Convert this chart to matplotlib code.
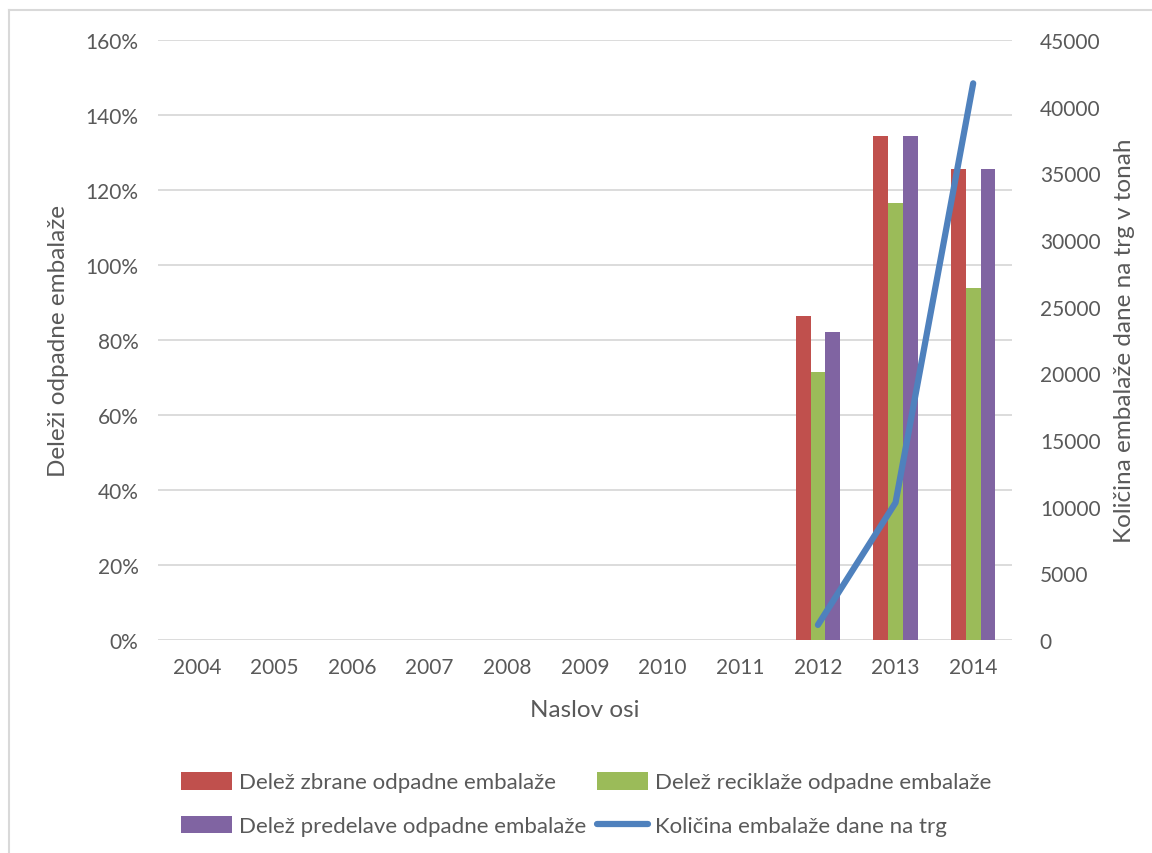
import matplotlib
matplotlib.use("Agg")
import matplotlib.pyplot as plt
from matplotlib.lines import Line2D
import numpy as np

years = ["2004", "2005", "2006", "2007", "2008", "2009", "2010", "2011", "2012", "2013", "2014"]
zbrane = [0, 0, 0, 0, 0, 0, 0, 0, 86.5, 134.5, 125.7]
reciklaze = [0, 0, 0, 0, 0, 0, 0, 0, 71.5, 116.6, 94.0]
predelave = [0, 0, 0, 0, 0, 0, 0, 0, 82.1, 134.5, 125.7]
line_years_idx = [8, 9, 10]
kolicina = [1130, 10300, 41750]

left_ticks = [0, 20, 40, 60, 80, 100, 120, 140, 160]
right_ticks = [0, 5000, 10000, 15000, 20000, 25000, 30000, 35000, 40000, 45000]

plt.rcParams['font.family'] = ['Lato', 'DejaVu Sans']
TXT = '#595959'
GRID = '#d9d9d9'

W, H = 1152, 854
fig = plt.figure(figsize=(W / 100, H / 100), dpi=100)

x0, x1, y0, y1 = 158, 1012, 41, 641
ax = fig.add_axes([x0 / W, 1 - y1 / H, (x1 - x0) / W, (y1 - y0) / H])

x = np.arange(len(years))
bw = 0.19
c_red, c_green, c_purple, c_blue = '#c0504d', '#9bbb59', '#8064a2', '#4f81bd'
ax.bar(x - bw, zbrane, bw, color=c_red, label='Delež zbrane odpadne embalaže', zorder=2)
ax.bar(x, reciklaze, bw, color=c_green, label='Delež reciklaže odpadne embalaže', zorder=2)
ax.bar(x + bw, predelave, bw, color=c_purple, label='Delež predelave odpadne embalaže', zorder=2)

ax.set_xlim(-0.5, len(years) - 0.5)
ax.set_ylim(0, 160)
ax.set_yticks(left_ticks)
ax.set_yticklabels([f"{t}%" for t in left_ticks])
ax.set_xticks(x)
ax.set_xticklabels(years)
ax.grid(axis='y', color=GRID, linewidth=1.3, zorder=0)
ax.set_axisbelow(True)
for s in ax.spines.values():
    s.set_visible(False)
ax.tick_params(axis='both', length=0, labelsize=15, colors=TXT)
ax.tick_params(axis='y', pad=14)
ax.tick_params(axis='x', pad=12)
ax.set_xlabel('Naslov osi', fontsize=17.5, color=TXT, labelpad=16)
ax.set_ylabel('Deleži odpadne embalaže', fontsize=17.5, color=TXT, labelpad=12)

ax2 = ax.twinx()
ax2.plot(line_years_idx, kolicina, color=c_blue, linewidth=4.5, solid_capstyle='round',
         label='Količina embalaže dane na trg', zorder=3)
ax2.set_ylim(0, 45000)
ax2.set_yticks(right_ticks)
ax2.set_yticklabels([str(t) for t in right_ticks])
for s in ax2.spines.values():
    s.set_visible(False)
ax2.tick_params(axis='y', length=0, labelsize=15, colors=TXT, pad=20)
ax2.set_ylabel('Količina embalaže dane na trg v tonah', fontsize=17.5, color=TXT, labelpad=10)

# legend
h1, l1 = ax.get_legend_handles_labels()
h2, l2 = ax2.get_legend_handles_labels()
handles = [h1[0], h1[2], h1[1], h2[0]]
labels = [l1[0], l1[2], l1[1], l2[0]]
leg = fig.legend(handles, labels, ncol=2, loc='center', bbox_to_anchor=(586 / W, 1 - 805 / H),
                 frameon=False, fontsize=16, labelcolor=TXT, handlelength=2.3, handleheight=0.85,
                 handletextpad=0.3, columnspacing=0.5, labelspacing=1.05)

# chart border
fig.add_artist(Line2D([8.5 / W, 8.5 / W], [0, 1 - 11 / H], color=GRID, linewidth=1.5))
fig.add_artist(Line2D([8.5 / W, 1], [1 - 11 / H, 1 - 11 / H], color=GRID, linewidth=1.5))

fig.savefig('out.png', dpi=100, facecolor='white')
